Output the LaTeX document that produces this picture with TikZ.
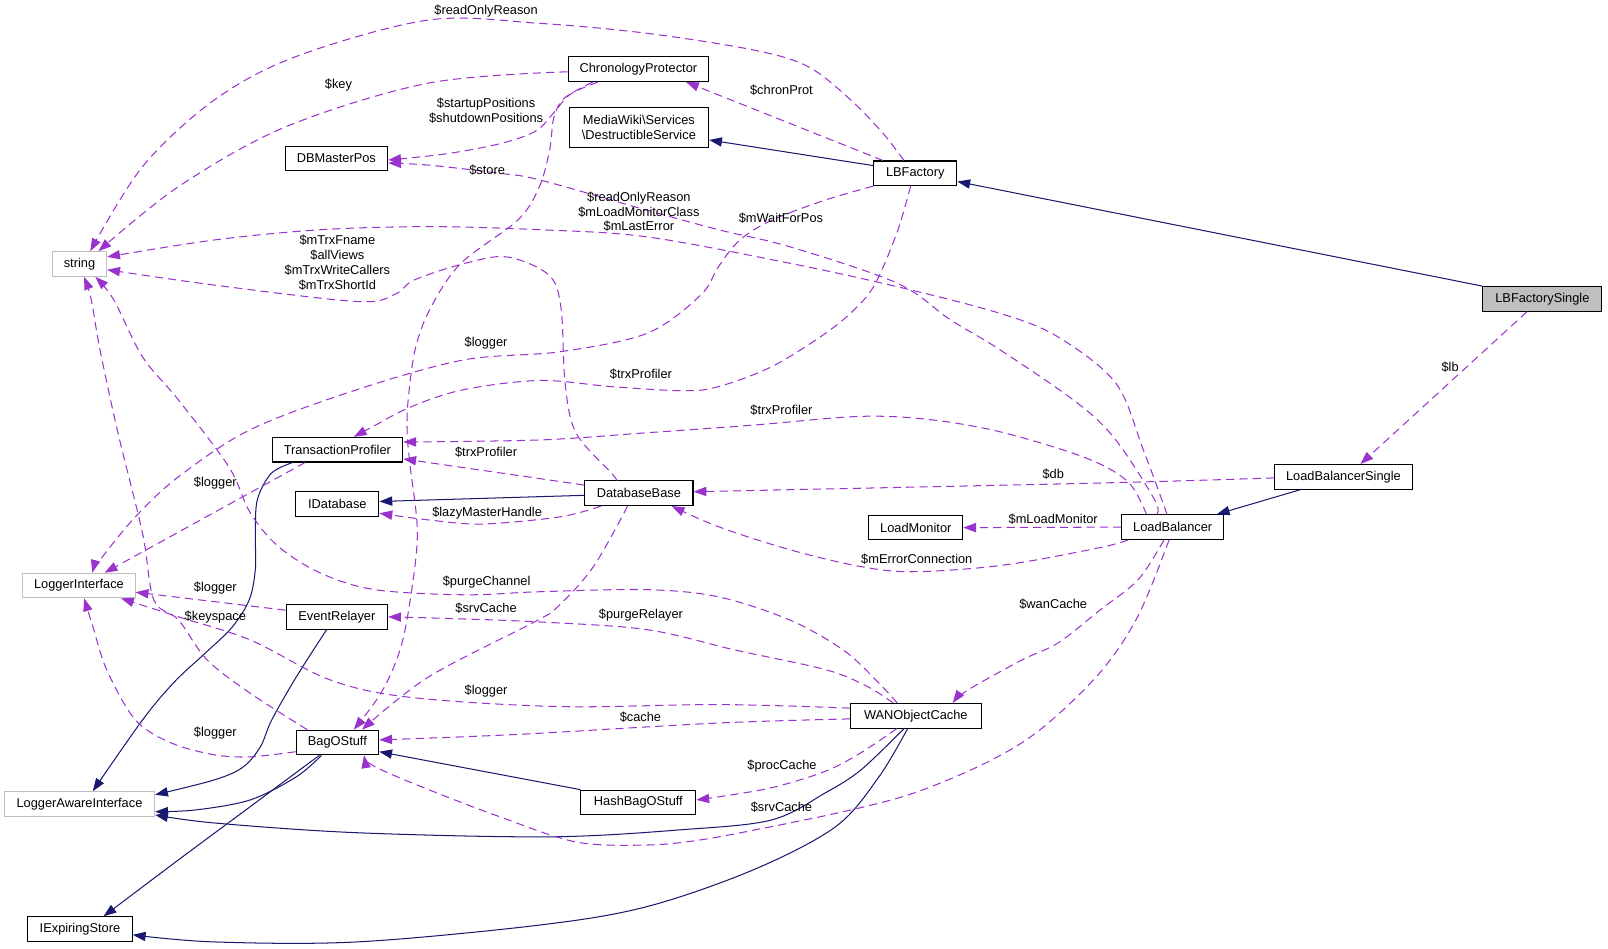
\documentclass[tikz,border=0pt]{standalone}
\usepackage{fontspec}
\setmainfont{Liberation Sans}
\usetikzlibrary{arrows.meta}
\definecolor{inhc}{HTML}{191970}
\definecolor{depc}{HTML}{9A32CD}
\definecolor{grayb}{HTML}{BFBFBF}
\begin{document}
\begin{tikzpicture}[x=1pt,y=-1pt,
 clsbox/.style={draw=black,line width=1pt,rectangle,minimum height=24pt,inner sep=0pt,font=\fontsize{12.5}{14.5}\selectfont,fill=white},
 extbox/.style={clsbox,draw=grayb},
 lbltxt/.style={font=\fontsize{12.5}{14.5}\selectfont,inner sep=0pt,align=center},
 inhedge/.style={draw=inhc,line width=1pt,-{Triangle[length=12.5pt,width=9pt]}},
 depedge/.style={draw=depc,line width=1pt,dash pattern=on 8pt off 5pt,-{Triangle[length=12.5pt,width=9pt]}},
 smth/.style={smooth,tension=0.55}
]
\fill[white] (0,0) rectangle (1568,925);
\useasboundingbox (0,0) rectangle (1568,925);

% nodes
\node[clsbox,minimum width=137pt] (ncp) at (622.5,67.5) {ChronologyProtector};
\node[clsbox,minimum width=136pt,minimum height=39.5pt,align=center] (nds) at (623,124.5) {MediaWiki\textbackslash Services\\\textbackslash DestructibleService};
\node[clsbox,minimum width=81pt] (nlbf) at (892.5,169) {LBFactory};
\node[clsbox,minimum width=100pt] (ndbm) at (328,154.5) {DBMasterPos};
\node[extbox,minimum width=53pt] (nstr) at (77.5,257.5) {string};
\node[clsbox,minimum width=116pt,fill=grayb] (nlbfs) at (1504,291.5) {LBFactorySingle};
\node[clsbox,minimum width=134pt] (nlbs) at (1310,465) {LoadBalancerSingle};
\node[clsbox,minimum width=99pt] (nlb) at (1143.5,514) {LoadBalancer};
\node[clsbox,minimum width=127.5pt] (ntp) at (329,438.5) {TransactionProfiler};
\node[clsbox,minimum width=81pt] (nidb) at (329,491.5) {IDatabase};
\node[extbox,minimum width=109.5pt] (nli) at (77,571) {LoggerInterface};
\node[clsbox,minimum width=99pt] (ner) at (328.5,601.5) {EventRelayer};
\node[clsbox,minimum width=105.5pt] (ndb) at (623,481) {DatabaseBase};
\node[clsbox,minimum width=91.5pt] (nlm) at (893,514.5) {LoadMonitor};
\node[clsbox,minimum width=80.5pt] (nbag) at (329,724) {BagOStuff};
\node[extbox,minimum width=146.5pt] (nlai) at (77.5,784) {LoggerAwareInterface};
\node[clsbox,minimum width=102pt] (nies) at (78,906) {IExpiringStore};
\node[clsbox,minimum width=127.5pt] (nwan) at (893,698) {WANObjectCache};
\node[clsbox,minimum width=112pt] (nhbos) at (622.5,782.5) {HashBagOStuff};

% inheritance edges
\draw[inhedge] (nlbfs.north west) -- ([yshift=-8pt]nlbf.east);
\draw[inhedge] ([yshift=7.5pt]nlbf.west) -- ([yshift=-12pt]nds.east);
\draw[inhedge] ([xshift=-42pt]nlbs.south) -- ([xshift=43pt]nlb.north);
\draw[inhedge] ([yshift=-2pt]ndb.west) -- ([yshift=2.5pt]nidb.east);
\draw[inhedge] plot[smth] coordinates {([xshift=-43.5pt]ntp.south) (264.6,461.5) (251,487) (249,520) (249,555) (243,585) (226,612) (200,637) (170,665) (139,702) ([xshift=13pt]nlai.north)};
\draw[inhedge] plot[smth] coordinates {([xshift=-10pt]ner.south) (289,660) (265,702) (254,728) (237,748) (209,760.5) ([yshift=9pt]nlai.east)};
\draw[inhedge] plot[smth] coordinates {([xshift=-15.5pt]nbag.south) (289,757.5) (244,780) (191,789.75) ([yshift=-7.5pt]nlai.east)};
\draw[inhedge] plot[smth] coordinates {([xshift=-17.5pt]nbag.south) (244,786.6) (174,838.5) ([xshift=23pt]nies.north)};
\draw[inhedge] (nhbos.north west) -- ([yshift=-9pt]nbag.east);
\draw[inhedge] plot[smth] coordinates {([xshift=-11.5pt]nwan.south) (839.5,750.75) (805,773) (752.6,799.5) (666,809) (536,816) (348,812) (209,802.5) ([yshift=-10.6pt]nlai.east)};
\draw[inhedge] plot[smth] coordinates {([xshift=-8pt]nwan.south) (857,757.6) (815,806) (735,848) (631,884) (526.5,902) (348,918.5) (209,918.5) ([yshift=-5.6pt]nies.east)};

% usage edges
\draw[depedge] ([xshift=-15pt]nlbfs.south) -- ([xshift=16.6pt]nlbs.north);
\draw[depedge] ([xshift=-31.5pt]nlbf.north) -- ([xshift=46.5pt]ncp.south);
\draw[depedge] plot[smth] coordinates {([xshift=-11pt]nlbf.north) (861,130) (829.6,97.5) (788,65) (735,48.8) (631,32.5) (526.5,22.8) (418,19.5) (289,55) (209,97.5) (139,162.5) ([xshift=10.5pt]nstr.north)};
\draw[depedge] plot[smth] coordinates {([yshift=-2.5pt]ncp.west) (418,81) (279,123.5) (174,182) ([xshift=18.5pt]nstr.north)};
\draw[depedge] plot[smth] coordinates {([xshift=-39.5pt]ncp.south) (556,92) (540,110) (522,128) (488,140) (435,150) ([yshift=-1.5pt]ndbm.east)};
\draw[depedge] plot[smth] coordinates {([xshift=-44.5pt]ncp.south) (550,96) (540,115) (536,146) (526,182) (505,214.5) (449.5,256.7) (420,300) (405,340) (398,390) (397,422) (400,455) (407,520) (400,585) (390,634) (372,675) ([xshift=16pt]nbag.north)};
\draw[depedge] plot[smth] coordinates {([xshift=-15.5pt]nlb.north) (1126,487.5) (1088,429) (1050.6,393) (975,341) (927,312) (874.6,276) (770,240.6) (700.6,224) (631,205) (526.5,175.5) (487.5,169) (418,161) ([yshift=-4.5pt]ndbm.east)};
\draw[depedge] plot[smth] coordinates {([xshift=-5.5pt]nlb.north) (1115,439) (1088,373.6) (1031.6,328.5) (975,305.5) (874.6,279.5) (770,256.7) (631,231) (526.5,224) (418,221) (313,224) (209,234) ([yshift=7pt]nstr.east)};
\draw[depedge] plot[smth] coordinates {([xshift=-21.5pt]ndb.north) (596,461) (561.6,422) (551,373.6) (547,300) (535,268) (494,250.5) (452.6,257) (404,273) (385,287) (348,294) (209,278) ([yshift=-5.5pt]nstr.east)};
\draw[depedge] plot[smth] coordinates {(nlbf.south west) (805,195) (753,214.5) (721.5,234) (700.6,260) (683,288) (631,325) (546,343) (452,351) (348,380) (244,419) (174,465) (132,504) (97.5,546) ([xshift=13pt]nli.north)};
\draw[depedge] plot[smth] coordinates {([xshift=-4.5pt]nlbf.south) (874.6,227) (853.8,276) (835,300) (805,325) (752.6,357.5) (700.6,377) (666,381) (596,377) (526.5,371) (452,380) (400,397) (360,418) ([xshift=16pt]ntp.north)};
\draw[depedge] plot[smth] coordinates {([xshift=-25.5pt]nlb.north) (1100,470) (1060,447) (979,422) (909.5,409.5) (839.5,406) (735,414.5) (631,422) (526.5,429) ([yshift=7.5pt]ntp.east)};
\draw[depedge] ([yshift=8pt]ndb.west) -- ([yshift=-9pt]ntp.east);
\draw[depedge] plot[smth] coordinates {([xshift=-37pt]ndb.south) (546,504) (470,511) (418,507) ([yshift=-9pt]nidb.east)};
\draw[depedge] ([xshift=-31.5pt]ntp.south) -- ([xshift=25pt]nli.north);
\draw[depedge] ([yshift=6.5pt]ner.west) -- ([yshift=-6.5pt]nli.east);
\draw[depedge] plot[smth] coordinates {([xshift=-18pt]nwan.north) (855,664) (822.5,634) (770,604.5) (700.6,582) (631,575) (526.5,577) (452.5,580) (365.6,575) (313,559) (271.6,533) (244,500) (223,455) (174,390) (139,348) (111,292.5) ([xshift=15.5pt]nstr.south)};
\draw[depedge] plot[smth] coordinates {([xshift=-22pt]nwan.north) (845,669) (805,653) (717.5,634) (631,614) (526.5,606.5) (435,603) (ner.east)};
\draw[depedge] plot[smth] coordinates {([yshift=7.5pt]nwan.west) (700.6,687) (546,689) (400,680) (322,663) (244,624) (174,601.5) ([xshift=41pt]nli.south)};
\draw[depedge] plot[smth] coordinates {([yshift=-3pt]nwan.west) (700.6,705) (526.5,715) (452.6,718.4) ([yshift=2.5pt]nbag.east)};
\draw[depedge] plot[smth] coordinates {([yshift=-9pt]nbag.west) (244,738) (209,736) (167,724.5) (132,702) (104,653) (90.6,611) ([xshift=5pt]nli.south)};
\draw[depedge] plot[smth] coordinates {([xshift=-29.5pt]nbag.north) (244,676) (202,643.5) (174,604.5) (150,585) (139,520) (115,422) (97.5,341) (89,292.5) ([xshift=4.5pt]nstr.south)};
\draw[depedge] plot[smth] coordinates {([xshift=-11pt]ndb.south) (578.7,552.5) (544,591.5) (522,606) (418,660) ([xshift=24pt]nbag.north)};
\draw[depedge] plot[smth] coordinates {([yshift=-1pt]nlbs.west) (1072.5,471) ([yshift=1.5pt]ndb.east)};
\draw[depedge] (nlb.west) -- (nlm.east);
\draw[depedge] plot[smth] coordinates {([xshift=-43.5pt]nlb.south) (1072.5,534) (979,551) (892,557.5) (839.5,552.5) (770,536) (700.6,513.6) ([xshift=32pt]ndb.south)};
\draw[depedge] plot[smth] coordinates {([xshift=-8.5pt]nlb.south) (1110,565) (1072.5,595) (1031.6,627) (996.6,643.5) (944,672.7) ([xshift=36pt]nwan.north)};
\draw[depedge] plot[smth] coordinates {([xshift=-3.5pt]nlb.south) (1110,600) (1072.5,656) (1014,711.75) (961,744) (892,773) (830,789.75) (752.6,806) (683,819) (631,824) (561.6,821) (487.5,796.5) (418,770) (365.6,747.6) ([xshift=26pt]nbag.south)};
\draw[depedge] plot[smth] coordinates {([xshift=-18.5pt]nwan.south) (839.5,734) (805,752) (753,768) (700.6,777) ([yshift=2.5pt]nhbos.east)};

% labels
\node[lbltxt] (l01) at (474,11) {\$readOnlyReason};
\node[lbltxt] (l02) at (330,83) {\$key};
\node[lbltxt] (l03) at (762,88) {\$chronProt};
\node[lbltxt] (l04) at (474,108) {\$startupPositions\\\$shutdownPositions};
\node[lbltxt] (l05) at (475,166) {\$store};
\node[lbltxt] (l06) at (623,206.5) {\$readOnlyReason\\\$mLoadMonitorClass\\\$mLastError};
\node[lbltxt] (l07) at (761.5,213) {\$mWaitForPos};
\node[lbltxt] (l08) at (329,256) {\$mTrxFname\\\$allViews\\\$mTrxWriteCallers\\\$mTrxShortId};
\node[lbltxt] (l09) at (474,335) {\$logger};
\node[lbltxt] (l10) at (1414,358) {\$lb};
\node[lbltxt] (l11) at (625,365) {\$trxProfiler};
\node[lbltxt] (l12) at (762,400) {\$trxProfiler};
\node[lbltxt] (l13) at (474,441) {\$trxProfiler};
\node[lbltxt] (l14) at (1027,462) {\$db};
\node[lbltxt] (l15) at (210,471) {\$logger};
\node[lbltxt] (l16) at (475,500) {\$lazyMasterHandle};
\node[lbltxt] (l17) at (1027,506) {\$mLoadMonitor};
\node[lbltxt] (l18) at (894,545) {\$mErrorConnection};
\node[lbltxt] (l19) at (474.5,568) {\$purgeChannel};
\node[lbltxt] (l20) at (210,573.5) {\$logger};
\node[lbltxt] (l21) at (1027,589) {\$wanCache};
\node[lbltxt] (l22) at (474,593) {\$srvCache};
\node[lbltxt] (l23) at (625,600) {\$purgeRelayer};
\node[lbltxt] (l24) at (210,601.5) {\$keyspace};
\node[lbltxt] (l25) at (474,673.5) {\$logger};
\node[lbltxt] (l26) at (624.5,699) {\$cache};
\node[lbltxt] (l27) at (210,714.5) {\$logger};
\node[lbltxt] (l28) at (762.5,747.5) {\$procCache};
\node[lbltxt] (l29) at (762,787.5) {\$srvCache};
\end{tikzpicture}
\end{document}
